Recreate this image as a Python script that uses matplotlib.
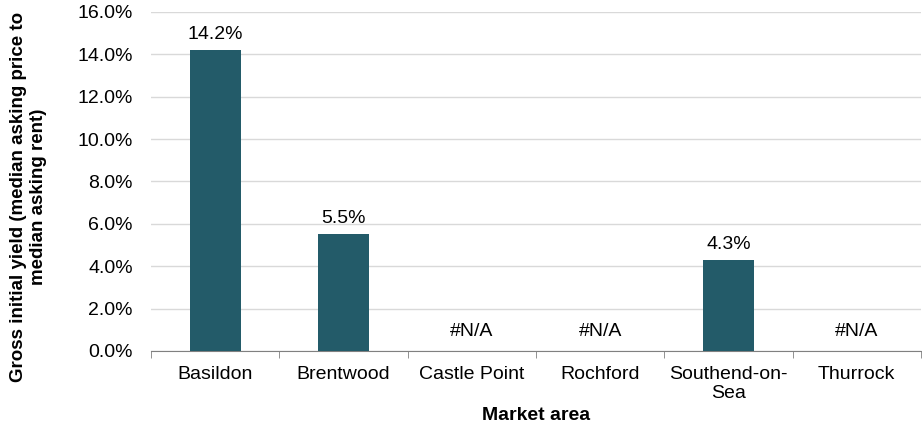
import numpy as np
import matplotlib
from matplotlib import pyplot as plt

matplotlib.rcParams.update({
    'font.family': ['Liberation Sans', 'DejaVu Sans'],
    'font.size': 14,
})

areas = ["Basildon", "Brentwood", "Castle Point", "Rochford", "Southend-on-\nSea", "Thurrock"]
yields = [14.2, 5.5, np.nan, np.nan, 4.3, np.nan]

bar_color = "#235B69"

fig = plt.figure(figsize=(9.22, 4.28), dpi=100)
ax = fig.add_axes([0.1638, 0.18, 0.835, 0.792])

x = np.arange(len(areas))
vals = np.nan_to_num(yields)
ax.bar(x, vals, width=0.4, color=bar_color, zorder=3)

# labels above bars, "#N/A" for missing areas
for xi, v in zip(x, yields):
    if np.isnan(v):
        ax.annotate("#N/A", (xi, 0), xytext=(0, 8), textcoords="offset points",
                    ha="center", va="bottom")
    else:
        ax.annotate(f"{v:.1f}%", (xi, v), xytext=(0, 5), textcoords="offset points",
                    ha="center", va="bottom")

ax.set_xlim(-0.5, len(areas) - 0.5)
ax.set_ylim(0, 16)
ax.set_yticks(np.arange(0, 17, 2))
ax.set_yticklabels([f"{t:.1f}%" for t in np.arange(0, 17, 2)])
ax.yaxis.grid(True, color="#D9D9D9", lw=1, zorder=0)
ax.set_axisbelow(True)

ax.set_xticks(x)
ax.set_xticklabels(areas, linespacing=1.1)
ax.set_xticks(np.arange(-0.5, len(areas)), minor=True)
ax.tick_params(axis="x", which="major", length=0, pad=11)
ax.tick_params(axis="x", which="minor", length=5, color="#808080")
ax.tick_params(axis="y", length=0, pad=13)

for s in ["top", "right", "left"]:
    ax.spines[s].set_visible(False)
ax.spines["bottom"].set_color("#808080")

ax.set_xlabel("Market area", fontweight="bold", labelpad=4)
ax.set_ylabel("Gross initial yield (median asking price to\nmedian asking rent)",
              fontweight="bold", fontsize=13.5, linespacing=1.2)
ax.yaxis.set_label_coords(-0.135, 0.454)

plt.savefig("out.png", dpi=100)
